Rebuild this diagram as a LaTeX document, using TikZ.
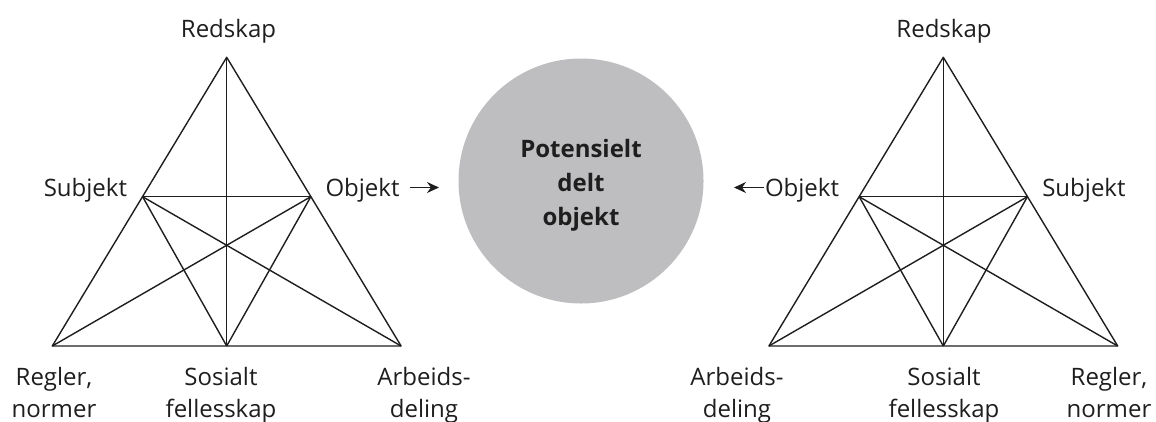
\documentclass[tikz,border=0pt]{standalone}
\usepackage{fontspec}
\setmainfont{Open Sans}
\usetikzlibrary{arrows.meta}
\definecolor{ink}{HTML}{1E1E1E}
\definecolor{disc}{HTML}{BEBEC0}
\begin{document}
\begin{tikzpicture}[x=1pt,y=-1pt,
  edge/.style={draw=ink,line width=1.4pt,line join=round},
  lbl/.style={inner sep=0pt,outer sep=0pt,text=ink,font=\fontsize{24}{32}\selectfont},
  lbl2/.style={lbl,align=center,anchor=base},
  pointer/.style={draw=ink,line width=1.5pt,-{Stealth[length=12pt,width=11pt]}}]
\useasboundingbox (0,0) rectangle (1156,421);

% shared disc in the middle
\node[circle,fill=disc,minimum size=245pt,inner sep=0pt] (disc) at (581,181) {};
\node[lbl,font=\bfseries\fontsize{24}{34}\selectfont,align=center,anchor=base] (disctxt) at (581,225.7) {Potensielt\\delt\\objekt};

% triangle vertices, left system
\coordinate (LA) at (226.7,57.3);
\coordinate (LS) at (142.6,196.7);
\coordinate (LO) at (310.8,196.7);
\coordinate (LBL) at (52.3,346);
\coordinate (LBM) at (226.7,346);
\coordinate (LBR) at (401.1,346);
\draw[edge] (LA) -- (LBL) -- (LBR) -- cycle;
\draw[edge] (LA) -- (LBM);
\draw[edge] (LS) -- (LO);
\draw[edge] (LS) -- (LBM);
\draw[edge] (LS) -- (LBR);
\draw[edge] (LO) -- (LBM);
\draw[edge] (LO) -- (LBL);

% triangle vertices, right system
\coordinate (RA) at (943.3,57.3);
\coordinate (RO) at (859.2,196.7);
\coordinate (RS) at (1027.4,196.7);
\coordinate (RBL) at (768.9,346);
\coordinate (RBM) at (943.3,346);
\coordinate (RBR) at (1117.7,346);
\draw[edge] (RA) -- (RBL) -- (RBR) -- cycle;
\draw[edge] (RA) -- (RBM);
\draw[edge] (RO) -- (RS);
\draw[edge] (RO) -- (RBM);
\draw[edge] (RO) -- (RBR);
\draw[edge] (RS) -- (RBM);
\draw[edge] (RS) -- (RBL);

% labels, left system
\node[lbl,anchor=base] (lred) at (228.5,37.3) {Redskap};
\node[lbl,anchor=base east] (lsub) at (127,196) {Subjekt};
\node[lbl,anchor=base west] (lobj) at (325.5,196) {Objekt};
\node[lbl2] (lreg) at (54,417) {Regler,\\normer};
\node[lbl2] (lsos) at (221,417) {Sosialt\\fellesskap};
\node[lbl2] (larb) at (424,417) {Arbeids-\\deling};

% labels, right system
\node[lbl,anchor=base] (rred) at (944,37.3) {Redskap};
\node[lbl,anchor=base west] (robj) at (765,196) {Objekt};
\node[lbl,anchor=base west] (rsub) at (1042.3,196) {Subjekt};
\node[lbl2] (rarb) at (737,417) {Arbeids-\\deling};
\node[lbl2] (rsos) at (944,417) {Sosialt\\fellesskap};
\node[lbl2] (rreg) at (1109,417) {Regler,\\normer};

% arrows towards the shared object
\coordinate (lp1) at (409.5,187.5);
\coordinate (lp2) at (439,187.5);
\coordinate (rp1) at (763.5,187.5);
\coordinate (rp2) at (734,187.5);
\draw[pointer] (lp1) -- (lp2);
\draw[pointer] (rp1) -- (rp2);
\end{tikzpicture}
\end{document}
